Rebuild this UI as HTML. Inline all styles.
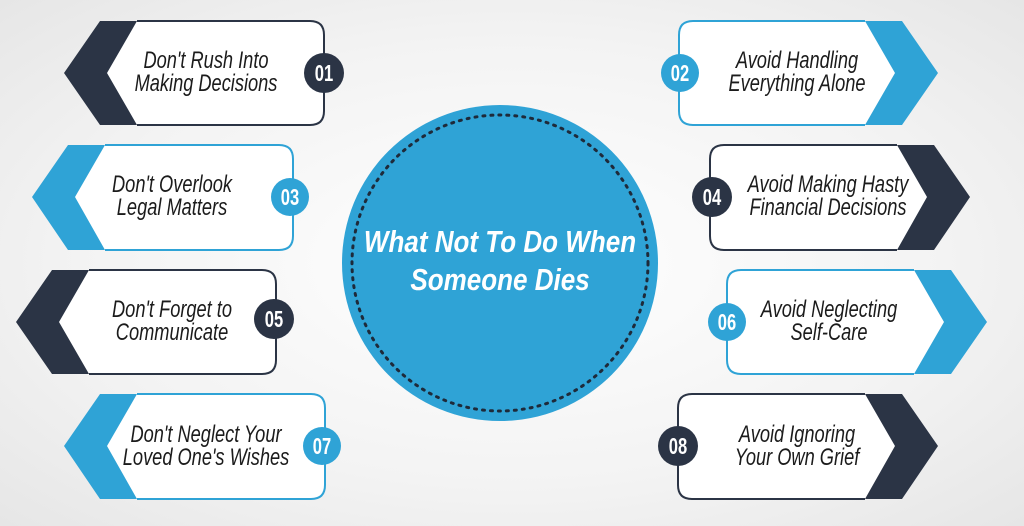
<!DOCTYPE html>
<html><head><meta charset="utf-8"><style>
html,body{margin:0;padding:0;width:1024px;height:526px;overflow:hidden}
body{background:radial-gradient(ellipse at 50% 50%,#ffffff 0%,#f3f3f3 60%,#e6e6e6 100%)}
text{font-family:"Liberation Sans",sans-serif;font-style:italic}
.t{font-size:24px;fill:#1b1b1b;text-anchor:middle}
.n{font-size:23px;fill:#fff;font-weight:bold;font-style:normal;text-anchor:middle}
.h{font-size:31px;fill:#fff;font-weight:bold;text-anchor:middle}
</style></head><body>
<svg width="1024" height="526" viewBox="0 0 1024 526">
<g stroke-width="2" fill="none">
<path d="M137,21 H310 Q324,21 324,35 V111 Q324,125 310,125 H137 L107,73 Z" fill="#fff" stroke="none"/>
<path d="M137,21 H310 Q324,21 324,35 V111 Q324,125 310,125 H137" stroke="#2b3445"/>
<polygon points="100,21 137,21 107,73 137,125 100,125 64,73" fill="#2b3445"/>
<circle cx="324" cy="73" r="20" fill="#2b3445"/>
<path d="M105,145 H279 Q293,145 293,159 V236 Q293,250 279,250 H105 L75,197 Z" fill="#fff" stroke="none"/>
<path d="M105,145 H279 Q293,145 293,159 V236 Q293,250 279,250 H105" stroke="#2fa3d6"/>
<polygon points="68,145 105,145 75,197 105,250 68,250 32,197" fill="#2fa3d6"/>
<circle cx="290" cy="197" r="19" fill="#2fa3d6"/>
<path d="M89,270 H262 Q276,270 276,284 V360 Q276,374 262,374 H89 L59,322 Z" fill="#fff" stroke="none"/>
<path d="M89,270 H262 Q276,270 276,284 V360 Q276,374 262,374 H89" stroke="#2b3445"/>
<polygon points="52,270 89,270 59,322 89,374 52,374 16,322" fill="#2b3445"/>
<circle cx="274" cy="319" r="20" fill="#2b3445"/>
<path d="M137,394 H311 Q325,394 325,408 V485 Q325,499 311,499 H137 L107,446 Z" fill="#fff" stroke="none"/>
<path d="M137,394 H311 Q325,394 325,408 V485 Q325,499 311,499 H137" stroke="#2fa3d6"/>
<polygon points="100,394 137,394 107,446 137,499 100,499 64,446" fill="#2fa3d6"/>
<circle cx="322" cy="446" r="19" fill="#2fa3d6"/>
<path d="M865,21 H693 Q679,21 679,35 V111 Q679,125 693,125 H865 L895,73 Z" fill="#fff" stroke="none"/>
<path d="M865,21 H693 Q679,21 679,35 V111 Q679,125 693,125 H865" stroke="#2fa3d6"/>
<polygon points="902,21 865,21 895,73 865,125 902,125 938,73" fill="#2fa3d6"/>
<circle cx="680" cy="73" r="19" fill="#2fa3d6"/>
<path d="M897,145 H724 Q710,145 710,159 V236 Q710,250 724,250 H897 L927,197 Z" fill="#fff" stroke="none"/>
<path d="M897,145 H724 Q710,145 710,159 V236 Q710,250 724,250 H897" stroke="#2b3445"/>
<polygon points="934,145 897,145 927,197 897,250 934,250 970,197" fill="#2b3445"/>
<circle cx="712" cy="197" r="20" fill="#2b3445"/>
<path d="M914,270 H741 Q727,270 727,284 V360 Q727,374 741,374 H914 L944,322 Z" fill="#fff" stroke="none"/>
<path d="M914,270 H741 Q727,270 727,284 V360 Q727,374 741,374 H914" stroke="#2fa3d6"/>
<polygon points="951,270 914,270 944,322 914,374 951,374 987,322" fill="#2fa3d6"/>
<circle cx="727" cy="322" r="19" fill="#2fa3d6"/>
<path d="M865,394 H692 Q678,394 678,408 V485 Q678,499 692,499 H865 L895,446 Z" fill="#fff" stroke="none"/>
<path d="M865,394 H692 Q678,394 678,408 V485 Q678,499 692,499 H865" stroke="#2b3445"/>
<polygon points="902,394 865,394 895,446 865,499 902,499 938,446" fill="#2b3445"/>
<circle cx="678" cy="446" r="20" fill="#2b3445"/>
</g>
<text class="n" transform="translate(324,81) scale(0.72,1)">01</text>
<text class="n" transform="translate(290,205) scale(0.72,1)">03</text>
<text class="n" transform="translate(274,327) scale(0.72,1)">05</text>
<text class="n" transform="translate(322,454) scale(0.72,1)">07</text>
<text class="n" transform="translate(680,81) scale(0.72,1)">02</text>
<text class="n" transform="translate(712,205) scale(0.72,1)">04</text>
<text class="n" transform="translate(727,330) scale(0.72,1)">06</text>
<text class="n" transform="translate(678,454) scale(0.72,1)">08</text>

<text class="t" transform="translate(206,68) scale(0.76,1)">Don't Rush Into</text>
<text class="t" transform="translate(206,91) scale(0.76,1)">Making Decisions</text>
<text class="t" transform="translate(172,192) scale(0.76,1)">Don't Overlook</text>
<text class="t" transform="translate(172,215) scale(0.76,1)">Legal Matters</text>
<text class="t" transform="translate(172,317) scale(0.76,1)">Don't Forget to</text>
<text class="t" transform="translate(172,340) scale(0.76,1)">Communicate</text>
<text class="t" transform="translate(206,442) scale(0.76,1)">Don't Neglect Your</text>
<text class="t" transform="translate(206,465) scale(0.76,1)">Loved One's Wishes</text>
<text class="t" transform="translate(797,68) scale(0.76,1)">Avoid Handling</text>
<text class="t" transform="translate(797,91) scale(0.76,1)">Everything Alone</text>
<text class="t" transform="translate(828,192) scale(0.76,1)">Avoid Making Hasty</text>
<text class="t" transform="translate(828,215) scale(0.76,1)">Financial Decisions</text>
<text class="t" transform="translate(829,317) scale(0.76,1)">Avoid Neglecting</text>
<text class="t" transform="translate(829,340) scale(0.76,1)">Self-Care</text>
<text class="t" transform="translate(797,442) scale(0.76,1)">Avoid Ignoring</text>
<text class="t" transform="translate(797,465) scale(0.76,1)">Your Own Grief</text>

<circle cx="500" cy="263" r="158" fill="#2fa3d6"/>
<circle cx="500" cy="263" r="148" fill="none" stroke="#1e2a3a" stroke-width="3" stroke-dasharray="2 6" stroke-linecap="round"/>
<text class="h" transform="translate(500,252) scale(0.84,1)">What Not To Do When</text>
<text class="h" transform="translate(500,290) scale(0.84,1)">Someone Dies</text>
</svg>
</body></html>
